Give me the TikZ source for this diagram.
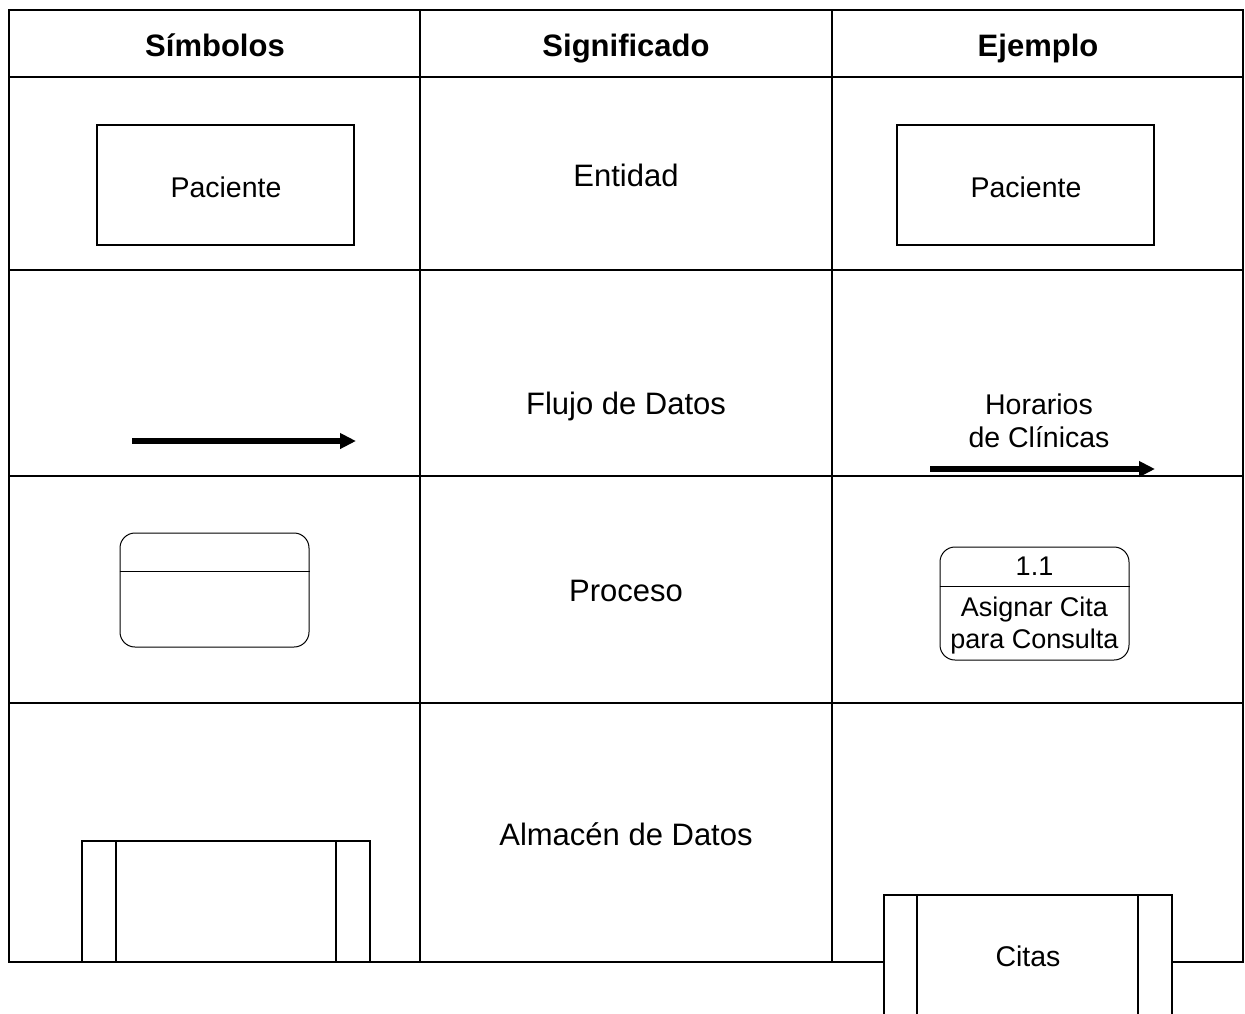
\documentclass[tikz,border=0pt]{standalone}
\usepackage{fontspec}
\setmainfont{Liberation Sans}
\usetikzlibrary{arrows.meta}
\begin{document}
\begin{tikzpicture}[x=1pt,y=-1pt,
  grid/.style={line width=2pt},
  hdr/.style={anchor=base,font=\fontsize{31}{36}\selectfont\bfseries},
  mean/.style={anchor=base,font=\fontsize{31}{36}\selectfont},
  lbl/.style={anchor=base,font=\fontsize{28.5}{32}\selectfont},
  small/.style={anchor=base,font=\fontsize{27}{30}\selectfont},
  entbox/.style={draw,line width=1.5pt,minimum width=257pt,minimum height=120pt,inner sep=0pt},
  procbox/.style={draw,line width=1pt,rounded corners=15pt,minimum width=189pt,minimum height=114pt,inner sep=0pt},
  storebox/.style={draw,fill=white,line width=2pt,inner sep=0pt},
  flow/.style={line width=6pt,-{Triangle[length=16pt,width=15pt]}}]
\useasboundingbox (0,0) rectangle (1245,1013);
% table
\draw[grid] (9,10) rectangle (1243,962);
\draw[grid] (420,10) -- (420,962) (832,10) -- (832,962);
\draw[grid] (9,77) -- (1243,77) (9,270) -- (1243,270) (9,476) -- (1243,476) (9,703) -- (1243,703);
% headers
\node[hdr] (h1) at (215,56) {Símbolos};
\node[hdr] (h2) at (626,56) {Significado};
\node[hdr] (h3) at (1038,56) {Ejemplo};
% row 1: entity
\node[entbox] (e1) at (225.5,185) {};
\node[lbl] (e1t) at (226,197) {Paciente};
\node[mean] (m1) at (626,186) {Entidad};
\node[entbox] (e2) at (1025.5,185) {};
\node[lbl] (e2t) at (1026,197) {Paciente};
% row 2: flow
\coordinate (f1a) at (132,441);
\coordinate (f1b) at (356,441);
\draw[flow] (f1a) -- (f1b);
\node[mean] (m2) at (626,414) {Flujo de Datos};
\node[lbl] (f2l1) at (1039,414) {Horarios};
\node[lbl] (f2l2) at (1039,447) {de Clínicas};
\coordinate (f2a) at (930,469);
\coordinate (f2b) at (1155,469);
\draw[flow] (f2a) -- (f2b);
% row 3: process
\node[procbox] (p1) at (214.5,590) {};
\draw[line width=1pt] (p1.west |- 0,571) -- (p1.east |- 0,571);
\node[mean] (m3) at (626,601) {Proceso};
\node[procbox,minimum height=113pt] (p2) at (1034.5,603.5) {};
\draw[line width=1pt] (p2.west |- 0,586) -- (p2.east |- 0,586);
\node[small] (p2n) at (1034.5,575) {1.1};
\node[small] (p2a) at (1034.5,616) {Asignar Cita};
\node[small] (p2b) at (1034.5,648) {para Consulta};
% row 4: store
\node[storebox,minimum width=288pt,minimum height=121pt] (s1) at (226,901.5) {};
\draw[line width=2pt] (116,841) -- (116,962) (336,841) -- (336,962);
\node[mean] (m4) at (626,845) {Almacén de Datos};
\node[storebox,minimum width=288pt,minimum height=130pt] (s2) at (1028,960) {};
\draw[line width=2pt] (917,895) -- (917,1025) (1138,895) -- (1138,1025);
\node[lbl] (s2t) at (1028,966) {Citas};
\end{tikzpicture}
\end{document}
